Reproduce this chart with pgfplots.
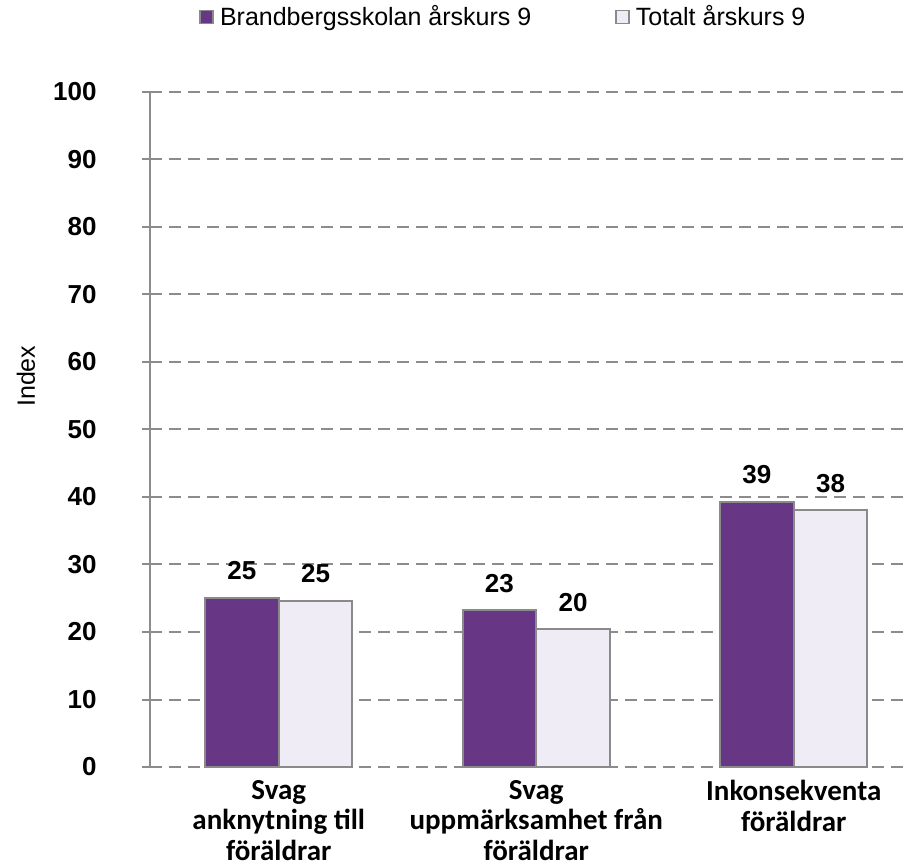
\documentclass[border=0pt]{standalone}
\usepackage{fontspec}
\setmainfont{Liberation Sans}
\newfontfamily\catfont{Carlito}
\usepackage{pgfplots}
\pgfplotsset{compat=1.18}

\definecolor{brand}{HTML}{673785}
\definecolor{total}{HTML}{EFECF5}
\definecolor{edge}{HTML}{8A8A8A}
\definecolor{gridc}{HTML}{8C8C8C}

\pgfplotsset{
  sqlegend/.style={legend image code/.code={%
    \draw[##1, line width=0.8pt] (0pt,-3.25pt) rectangle (6.5pt,3.25pt);}},
}

\begin{document}
\begin{tikzpicture}
\begin{axis}[
  name=ax,
  scale only axis, width=379.5pt, height=337.5pt,
  ybar=0pt, bar width=0.286,
  xmin=-0.5, xmax=2.4476, ymin=0, ymax=100,
  separate axis lines,
  axis x line*=bottom, x axis line style={draw=none},
  axis y line*=left, y axis line style={draw=gridc, line width=1pt},
  xtick={0,1,2},
  xticklabels={{Svag\\anknytning till\\föräldrar},{Svag\\uppmärksamhet från\\föräldrar},{Inkonsekventa\\föräldrar}},
  xtick style={draw=none},
  xticklabel style={font=\catfont\bfseries\fontsize{14.5}{15.2}\selectfont, align=center, anchor=north, inner sep=0pt, yshift=-2.5pt},
  ytick={0,10,...,100},
  ytick style={draw=gridc, line width=1pt},
  tick align=outside, major tick length=4pt,
  yticklabel style={font=\bfseries\fontsize{13}{15}\selectfont, anchor=east, inner sep=0pt, xshift=-22.5pt},
  ymajorgrids,
  major grid style={draw=gridc, line width=1pt, dash pattern=on 6pt off 3.5pt},
  ylabel={Index},
  ylabel style={at={(axis description cs:-0.1634,0.579)}, anchor=center, font=\fontsize{12.5}{14}\selectfont},
  /pgf/number format/.cd, fixed, precision=0, assume math mode=true, /pgfplots/.cd,
  nodes near coords,
  nodes near coords style={font=\bfseries\fontsize{13}{15}\selectfont, anchor=south, inner sep=0pt, yshift=8.5pt, text=black},
  legend columns=2,
  legend style={at={(axis description cs:0.0646,1.1111)}, anchor=west, draw=none, fill=none, inner sep=0pt,
    font=\fontsize{12.5}{15}\selectfont,
    nodes={inner sep=0pt},
    /tikz/every odd column/.append style={column sep=3pt},
    /tikz/every even column/.append style={column sep=42pt}},
  legend cell align=left,
]
\addplot[fill=brand, draw=edge, line width=1pt, sqlegend] coordinates {(0,25.1) (1,23.2) (2,39.3)};
\addplot[fill=total, draw=edge, line width=1pt, sqlegend] coordinates {(0,24.6) (1,20.4) (2,38.0)};
\legend{Brandbergsskolan årskurs 9, Totalt årskurs 9}
\end{axis}
\pgfresetboundingbox
\path[use as bounding box] ([shift={(-75pt,-50pt)}]ax.south west) rectangle ([shift={(379.5pt,383.5pt)}]ax.south west);
\end{tikzpicture}
\end{document}
